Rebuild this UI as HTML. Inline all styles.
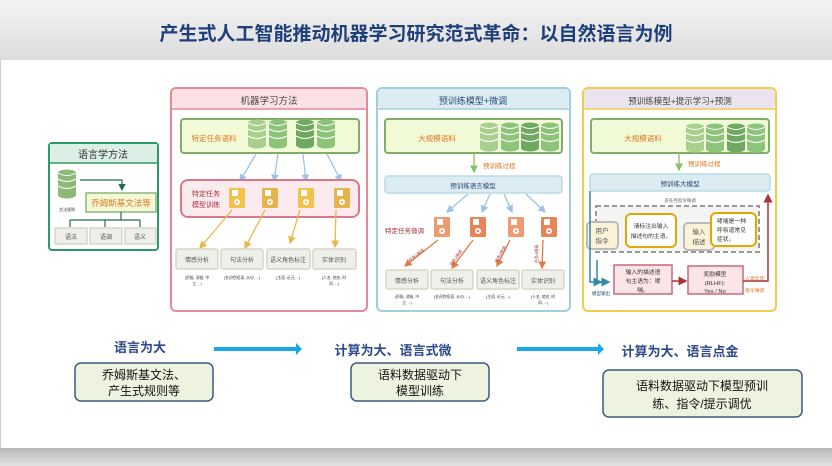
<!DOCTYPE html>
<html><head><meta charset="utf-8"><style>
body{margin:0;width:832px;height:466px;overflow:hidden;background:#fff;font-family:"Liberation Sans","Noto Sans CJK SC",sans-serif}
svg{display:block}
text{font-family:"Liberation Sans","Noto Sans CJK SC",sans-serif}
</style></head><body>
<svg width="832" height="466" viewBox="0 0 832 466" xmlns="http://www.w3.org/2000/svg">
<defs>
<linearGradient id="tg" x1="0" y1="0" x2="0" y2="1"><stop offset="0" stop-color="#f4f4f4"/><stop offset="1" stop-color="#dcdcdc"/></linearGradient>
<linearGradient id="bg" x1="0" y1="0" x2="0" y2="1"><stop offset="0" stop-color="#b8b8b8"/><stop offset="1" stop-color="#e4e4e4"/></linearGradient>
<g id="db"><rect x="-9" y="-10" width="18" height="22" fill="currentColor"/><ellipse cx="0" cy="-10" rx="9" ry="3.5" fill="currentColor"/><ellipse cx="0" cy="12" rx="9" ry="3.5" fill="currentColor"/><path d="M-9 -4 q9 5 18 0 M-9 3 q9 5 18 0" stroke="#fff" stroke-width="1.2" fill="none"/><path d="M-9 -10 q9 5 18 0" stroke="#fff" stroke-width="1" fill="none"/></g>
<g id="fd"><rect x="-8" y="-10" width="16" height="20" rx="1.5" fill="currentColor"/><rect x="-5" y="-8" width="6" height="6" fill="#fff"/><circle cx="0" cy="4" r="3" fill="#fff"/><circle cx="0" cy="4" r="1.2" fill="currentColor"/></g>
<marker id="ab" markerWidth="6" markerHeight="6" refX="5" refY="3" orient="auto"><path d="M0 0L6 3L0 6z" fill="#9cc3e6"/></marker>
<marker id="ay" markerWidth="6" markerHeight="6" refX="5" refY="3" orient="auto"><path d="M0 0L6 3L0 6z" fill="#e9b84a"/></marker>
<marker id="ao" markerWidth="6" markerHeight="6" refX="5" refY="3" orient="auto"><path d="M0 0L6 3L0 6z" fill="#e07a4a"/></marker>
<marker id="ag" markerWidth="6" markerHeight="6" refX="5" refY="3" orient="auto"><path d="M0 0L6 3L0 6z" fill="#1f6e4a"/></marker>
<marker id="agr" markerWidth="6" markerHeight="6" refX="5" refY="3" orient="auto"><path d="M0 0L6 3L0 6z" fill="#8cbf6a"/></marker>
<marker id="ar" markerWidth="6" markerHeight="6" refX="5" refY="3" orient="auto"><path d="M0 0L6 3L0 6z" fill="#a8353a"/></marker>
<marker id="at" markerWidth="6" markerHeight="6" refX="5" refY="3" orient="auto"><path d="M0 0L6 3L0 6z" fill="#2e8aa8"/></marker>
</defs>
<rect width="832" height="60" fill="url(#tg)"/>
<text x="416" y="40" text-anchor="middle" font-size="19" font-weight="bold" fill="#1f3f7a">产生式人工智能推动机器学习研究范式革命：以自然语言为例</text>
<rect x="0" y="448" width="832" height="18" fill="url(#bg)"/>
<line x1="0.5" y1="60" x2="0.5" y2="448" stroke="#ccc"/>

<!-- green box -->
<rect x="49" y="143" width="109" height="107" rx="3" fill="#fff" stroke="#2e9a6a" stroke-width="2"/>
<rect x="50" y="144" width="107" height="19" fill="#dcefe6"/>
<line x1="50" y1="163" x2="157" y2="163" stroke="#2e9a6a" stroke-width="1.5"/>
<text x="103" y="158" text-anchor="middle" font-size="10" fill="#333">语言学方法</text>
<use href="#db" x="67" y="183" color="#8cb878"/>
<text x="67" y="211" text-anchor="middle" font-size="4" fill="#333">文法规则</text>
<path d="M80 180H122V190" stroke="#1f6e4a" stroke-width="1.2" fill="none" marker-end="url(#ag)"/>
<rect x="86" y="193" width="70" height="19" fill="#f4f9d8" stroke="#8cb878" stroke-width="1.5"/>
<text x="121" y="206" text-anchor="middle" font-size="8.5" fill="#e0761e">乔姆斯基文法等</text>
<path d="M121 212V220M70 220H140M70 220V227M105 220V227M140 220V227" stroke="#1f6e4a" stroke-width="1.2" fill="none"/>
<g font-size="6" fill="#555" text-anchor="middle">
<rect x="55" y="228" width="32" height="16" fill="#eeeeea" stroke="#d8d6c8" stroke-width="1.5"/><text x="71" y="239">语法</text>
<rect x="90" y="228" width="32" height="16" fill="#eeeeea" stroke="#d8d6c8" stroke-width="1.5"/><text x="106" y="239">语调</text>
<rect x="125" y="228" width="31" height="16" fill="#eeeeea" stroke="#d8d6c8" stroke-width="1.5"/><text x="140" y="239">语义</text>
</g>

<!-- pink box -->
<rect x="171" y="88" width="196" height="223" rx="5" fill="#fff" stroke="#e08a9a" stroke-width="2"/>
<rect x="172" y="89" width="194" height="20" rx="4" fill="#fbe0e6"/>
<line x1="172" y1="109" x2="366" y2="109" stroke="#e08a9a" stroke-width="1.5"/>
<text x="269" y="104" text-anchor="middle" font-size="9.5" fill="#444">机器学习方法</text>
<rect x="181" y="119" width="178" height="34" rx="3" fill="#f2fad8" stroke="#7fae68" stroke-width="2"/>
<text x="214" y="141" text-anchor="middle" font-size="7.5" fill="#e0761e">特定任务语料</text>
<use href="#db" x="257" y="133" color="#a8d08c"/><use href="#db" x="278" y="133" color="#8cc47a"/><use href="#db" x="305" y="133" color="#6fa860"/><use href="#db" x="326" y="133" color="#8cc47a"/>
<g stroke="#9cc3e6" stroke-width="1.3" marker-end="url(#ab)"><line x1="256" y1="154" x2="240" y2="181"/><line x1="278" y1="154" x2="274" y2="181"/><line x1="303" y1="154" x2="306" y2="181"/><line x1="327" y1="154" x2="341" y2="181"/></g>
<rect x="181" y="180" width="178" height="37" rx="7" fill="#fbeaee" stroke="#d9788a" stroke-width="2"/>
<text x="206" y="196" text-anchor="middle" font-size="7" fill="#a8353a">特定任务</text>
<text x="206" y="207" text-anchor="middle" font-size="7" fill="#a8353a">模型训练</text>
<use href="#fd" x="237" y="198" color="#f2c24a"/><use href="#fd" x="270" y="198" color="#e6b44a"/><use href="#fd" x="306" y="198" color="#f2c24a"/><use href="#fd" x="342" y="198" color="#e6b44a"/>
<g stroke="#e9b84a" stroke-width="1.3" marker-end="url(#ay)"><line x1="232" y1="210" x2="200" y2="248"/><line x1="265" y1="210" x2="245" y2="248"/><line x1="300" y1="210" x2="290" y2="243"/><line x1="336" y1="210" x2="335" y2="247"/></g>
<g font-size="6" fill="#555" text-anchor="middle">
<rect x="176" y="249" width="42" height="20" rx="2" fill="#f0f0ea" stroke="#d8d6c8" stroke-width="1.5"/><text x="197" y="262">情感分析</text>
<rect x="221" y="249" width="42" height="20" rx="2" fill="#f0f0ea" stroke="#d8d6c8" stroke-width="1.5"/><text x="242" y="262">句法分析</text>
<rect x="267" y="249" width="43" height="20" rx="2" fill="#f0f0ea" stroke="#d8d6c8" stroke-width="1.5"/><text x="288" y="262">语义角色标注</text>
<rect x="313" y="249" width="43" height="20" rx="2" fill="#f0f0ea" stroke="#d8d6c8" stroke-width="1.5"/><text x="334" y="262">实体识别</text>
</g>
<g font-size="3.8" fill="#333" text-anchor="middle"><text x="197" y="279">(积极, 消极, 中</text><text x="197" y="285">立, ..)</text><text x="242" y="279">(名词性短语, 从句, ...)</text><text x="288" y="279">(主语, 论元, ..)</text><text x="334" y="279">(人名, 地名, 时</text><text x="334" y="285">间, ...)</text></g>

<!-- blue box -->
<rect x="377" y="88" width="193" height="223" rx="5" fill="#fff" stroke="#9fd0e2" stroke-width="2"/>
<rect x="378" y="89" width="191" height="20" rx="4" fill="#dcecf2"/>
<line x1="378" y1="109" x2="569" y2="109" stroke="#9fd0e2" stroke-width="1.5"/>
<text x="473" y="104" text-anchor="middle" font-size="9" fill="#2d4a7a">预训练模型+微调</text>
<rect x="385" y="119" width="177" height="34" rx="3" fill="#f2fad8" stroke="#7fae68" stroke-width="2"/>
<text x="437" y="141" text-anchor="middle" font-size="7.5" fill="#e0761e">大规模语料</text>
<use href="#db" x="489" y="136" color="#a8d08c"/><use href="#db" x="510" y="136" color="#8cc47a"/><use href="#db" x="530" y="136" color="#6fa860"/><use href="#db" x="550" y="136" color="#8cc47a"/>
<line x1="474" y1="154" x2="474" y2="172" stroke="#8cbf6a" stroke-width="1.3" marker-end="url(#agr)"/>
<text x="483" y="168" font-size="6.5" fill="#e0761e">预训练过程</text>
<rect x="385" y="176" width="177" height="17" rx="3" fill="#dcecf2" stroke="#b8dbe8" stroke-width="1.5"/>
<text x="473" y="188" text-anchor="middle" font-size="6.5" fill="#2d4a7a">预训练语言模型</text>
<g stroke="#9cc3e6" stroke-width="1.3" marker-end="url(#ab)"><line x1="468" y1="194" x2="447" y2="212"/><line x1="490" y1="194" x2="482" y2="212"/><line x1="504" y1="194" x2="512" y2="212"/><line x1="526" y1="194" x2="545" y2="212"/></g>
<text x="385" y="233" font-size="6.5" fill="#a8353a">特定任务微调</text>
<use href="#fd" x="442" y="227" color="#ef9a70"/><use href="#fd" x="478" y="227" color="#e8845a"/><use href="#fd" x="516" y="227" color="#ef9a70"/><use href="#fd" x="549" y="227" color="#e8845a"/>
<g stroke="#e07a4a" stroke-width="1.3" marker-end="url(#ao)"><line x1="438" y1="240" x2="405" y2="266"/><line x1="473" y1="240" x2="452" y2="268"/><line x1="510" y1="240" x2="497" y2="266"/><line x1="543" y1="240" x2="542" y2="268"/></g>
<g font-size="4" fill="#a8353a"><text x="410" y="262" transform="rotate(-38 410 262)">任务1微调</text><text x="452" y="266" transform="rotate(-55 452 266)">任务2微调</text><text x="497" y="263" transform="rotate(-60 497 263)">任务3微调</text><text x="538" y="263" transform="rotate(-90 538 263)">任务4微调</text></g>
<g font-size="6" fill="#555" text-anchor="middle">
<rect x="386" y="270" width="42" height="19" rx="2" fill="#f0f0ea" stroke="#d8d6c8" stroke-width="1.5"/><text x="407" y="283">情感分析</text>
<rect x="431" y="270" width="42" height="19" rx="2" fill="#f0f0ea" stroke="#d8d6c8" stroke-width="1.5"/><text x="452" y="283">句法分析</text>
<rect x="477" y="270" width="42" height="19" rx="2" fill="#f0f0ea" stroke="#d8d6c8" stroke-width="1.5"/><text x="498" y="283">语义角色标注</text>
<rect x="522" y="270" width="42" height="19" rx="2" fill="#f0f0ea" stroke="#d8d6c8" stroke-width="1.5"/><text x="543" y="283">实体识别</text>
</g>
<g font-size="3.8" fill="#333" text-anchor="middle"><text x="407" y="298">(积极, 消极, 中</text><text x="407" y="304">立, ..)</text><text x="452" y="298">(名词性短语, 从句, ...)</text><text x="498" y="298">(主语, 论元, ..)</text><text x="543" y="298">(人名, 地名, 时</text><text x="543" y="304">间, ...)</text></g>

<!-- yellow box -->
<rect x="583" y="88" width="193" height="223" rx="5" fill="#fff" stroke="#f2cc50" stroke-width="2"/>
<rect x="584" y="89" width="191" height="20" rx="4" fill="#ebe4ef"/>
<line x1="584" y1="109" x2="775" y2="109" stroke="#f2cc50" stroke-width="1.5"/>
<text x="680" y="104" text-anchor="middle" font-size="8.5" fill="#444">预训练模型+提示学习+预测</text>
<rect x="591" y="119" width="178" height="34" rx="3" fill="#f2fad8" stroke="#7fae68" stroke-width="2"/>
<text x="643" y="141" text-anchor="middle" font-size="7.5" fill="#e0761e">大规模语料</text>
<use href="#db" x="695" y="137" color="#a8d08c"/><use href="#db" x="715" y="137" color="#8cc47a"/><use href="#db" x="736" y="137" color="#6fa860"/><use href="#db" x="756" y="137" color="#8cc47a"/>
<line x1="679" y1="154" x2="679" y2="170" stroke="#8cbf6a" stroke-width="1.3" marker-end="url(#agr)"/>
<text x="688" y="166" font-size="6.5" fill="#e0761e">预训练过程</text>
<rect x="590" y="174" width="180" height="17" rx="3" fill="#dcecf2" stroke="#b8dbe8" stroke-width="1.5"/>
<text x="680" y="186" text-anchor="middle" font-size="6.5" fill="#2d4a7a">预训练大模型</text>
<text x="680" y="202" text-anchor="middle" font-size="4.5" fill="#666">多任务指令微调</text>
<rect x="596" y="206" width="163" height="46" fill="#f4f4f4" stroke="#999" stroke-width="2" stroke-dasharray="5 3"/>
<rect x="587" y="222" width="31" height="27" rx="4" fill="#fcf2d8" stroke="#bbb" stroke-width="2"/>
<text x="602" y="233" text-anchor="middle" font-size="6.5" fill="#555">用户</text><text x="602" y="243" text-anchor="middle" font-size="6.5" fill="#555">指令</text>
<rect x="626" y="214" width="50" height="33" rx="5" fill="#fff" stroke="#e0a800" stroke-width="2"/>
<text x="651" y="228" text-anchor="middle" font-size="5.8" fill="#333">请标注出输入</text><text x="651" y="238" text-anchor="middle" font-size="5.8" fill="#333">描述句的主语。</text>
<rect x="684" y="223" width="30" height="27" rx="4" fill="#fcf2d8" stroke="#bbb" stroke-width="2"/>
<text x="699" y="234" text-anchor="middle" font-size="6.5" fill="#555">输入</text><text x="699" y="244" text-anchor="middle" font-size="6.5" fill="#555">描述</text>
<rect x="711" y="213" width="45" height="33" rx="5" fill="#fff" stroke="#e0a800" stroke-width="2"/>
<text x="717" y="223" font-size="5.8" fill="#333">哮喘是一种</text><text x="717" y="232" font-size="5.8" fill="#333">呼吸道常见</text><text x="717" y="241" font-size="5.8" fill="#333">症状。</text>
<path d="M590 191V282H601" stroke="#2e8aa8" stroke-width="1.5" fill="none" marker-end="url(#at)"/>
<path d="M597 260V282H609" stroke="#2e8aa8" stroke-width="1.5" fill="none" marker-end="url(#at)"/>
<text x="592" y="295" font-size="4.5" fill="#2d4a7a">模型输出</text>
<rect x="614" y="265" width="58" height="29" fill="#fbe5e8" stroke="#c86a78" stroke-width="1.5"/>
<text x="643" y="274" text-anchor="middle" font-size="5.8" fill="#333">输入的描述语</text><text x="643" y="283" text-anchor="middle" font-size="5.8" fill="#333">句主语为：哮</text><text x="643" y="292" text-anchor="middle" font-size="5.8" fill="#333">喘。</text>
<line x1="672" y1="281" x2="686" y2="281" stroke="#a8353a" stroke-width="1.5" marker-end="url(#ar)"/>
<rect x="688" y="266" width="55" height="28" fill="#fbe5e8" stroke="#c86a78" stroke-width="1.5"/>
<text x="715" y="276" text-anchor="middle" font-size="5.8" fill="#333">奖励模型</text><text x="715" y="285" text-anchor="middle" font-size="5.8" fill="#333">(RLHF):</text><text x="715" y="293" text-anchor="middle" font-size="5.8" fill="#333">Yes / No</text>
<path d="M743 281H768V195" stroke="#a8353a" stroke-width="1.5" fill="none" marker-end="url(#ar)"/>
<text x="745" y="280" font-size="4.8" fill="#e0761e">人类反馈</text><text x="745" y="292" font-size="4.8" fill="#e0761e">指令微调</text>

<!-- bottom -->
<g font-size="13" font-weight="bold" fill="#2d4a8a">
<text x="140" y="352" text-anchor="middle">语言为大</text>
<text x="393" y="355" text-anchor="middle">计算为大、语言式微</text>
<text x="680" y="356" text-anchor="middle">计算为大、语言点金</text>
</g>
<path d="M214 347H296V343L302 349L296 355V351H214z" fill="#19a8e6"/>
<path d="M517 347H598V343L604 349L598 355V351H517z" fill="#19a8e6"/>
<rect x="75" y="363" width="138" height="38" rx="6" fill="#eef3e0" stroke="#3a5a80" stroke-width="1.5"/>
<text x="144" y="379" text-anchor="middle" font-size="12" fill="#111">乔姆斯基文法、</text>
<text x="144" y="395" text-anchor="middle" font-size="12" fill="#111">产生式规则等</text>
<rect x="351" y="363" width="138" height="38" rx="6" fill="#eef3e0" stroke="#3a5a80" stroke-width="1.5"/>
<text x="420" y="379" text-anchor="middle" font-size="12" fill="#111">语料数据驱动下</text>
<text x="420" y="395" text-anchor="middle" font-size="12" fill="#111">模型训练</text>
<rect x="603" y="370" width="199" height="47" rx="6" fill="#eef3e0" stroke="#3a5a80" stroke-width="1.5"/>
<text x="702" y="390" text-anchor="middle" font-size="12" fill="#111">语料数据驱动下模型预训</text>
<text x="702" y="408" text-anchor="middle" font-size="12" fill="#111">练、指令/提示调优</text>
</svg>
</body></html>
